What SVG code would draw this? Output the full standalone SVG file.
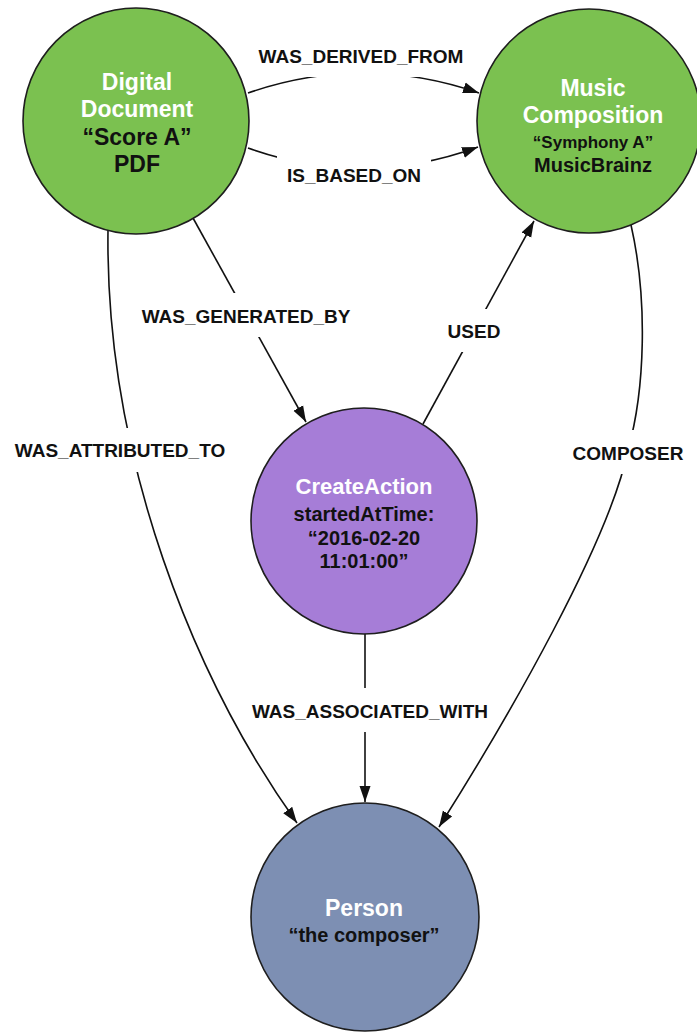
<svg xmlns="http://www.w3.org/2000/svg" width="697" height="1033" viewBox="0 0 697 1033">
<style>
.node{stroke:#1e1e1e;stroke-width:1.6}
.green{fill:#7bc150}
.purple{fill:#a67dd7}
.blue{fill:#7d8fb3}
.t{font-family:"Liberation Sans",Arial,Helvetica,sans-serif;font-weight:bold;text-anchor:middle}
.w{fill:#ffffff}
.k{fill:#111111}
.edge{fill:none;stroke:#111111;stroke-width:1.6}
.lbl{font-family:"Liberation Sans",Arial,Helvetica,sans-serif;font-weight:bold;font-size:19px;text-anchor:middle;fill:#111111}
.bg{fill:#ffffff}
</style>
<defs>
<marker id="arr" markerUnits="userSpaceOnUse" markerWidth="17" markerHeight="12" refX="16" refY="6" orient="auto">
<path d="M0,0.5 L16,6 L0,11.5 z" fill="#111111"/>
</marker>
</defs>
<rect x="0" y="0" width="697" height="1033" fill="#ffffff"/>
<g id="connectors">
<path class="edge" d="M248,93 Q363,53 479,93" marker-end="url(#arr)"/>
<path class="edge" d="M248,148 Q363,189 478,147" marker-end="url(#arr)"/>
<path class="edge" d="M193,218 L306,422" marker-end="url(#arr)"/>
<path class="edge" d="M423,424 L534,221" marker-end="url(#arr)"/>
<path class="edge" d="M108,230 C105,460 195,680 297,823" marker-end="url(#arr)"/>
<path class="edge" d="M631,225 C648,300 645,390 628,450 C610,540 510,715 439,827" marker-end="url(#arr)"/>
<path class="edge" d="M365,634 L365,802" marker-end="url(#arr)"/>
<rect class="bg" x="249" y="34" width="224" height="43"/>
<text class="lbl" x="361" y="63">WAS_DERIVED_FROM</text>
<rect class="bg" x="277" y="154" width="154" height="43"/>
<text class="lbl" x="354" y="182">IS_BASED_ON</text>
<rect class="bg" x="130" y="293" width="232" height="44"/>
<text class="lbl" x="246" y="323">WAS_GENERATED_BY</text>
<rect class="bg" x="438" y="309" width="72" height="43"/>
<text class="lbl" x="474" y="338">USED</text>
<rect class="bg" x="5" y="428" width="230" height="44"/>
<text class="lbl" x="120" y="457">WAS_ATTRIBUTED_TO</text>
<rect class="bg" x="562" y="430" width="133" height="44"/>
<text class="lbl" x="628" y="460">COMPOSER</text>
<rect class="bg" x="246" y="688" width="248" height="44"/>
<text class="lbl" x="370" y="718">WAS_ASSOCIATED_WITH</text>
</g>
<g id="node-digital-document">
<circle class="node green" cx="136" cy="121" r="113"/>
<text class="t w" x="137" y="90" font-size="23">Digital</text>
<text class="t w" x="137" y="117" font-size="23">Document</text>
<text class="t k" x="137" y="145" font-size="23">“Score A”</text>
<text class="t k" x="137" y="172" font-size="23">PDF</text>
</g>
<g id="node-music-composition">
<circle class="node green" cx="589" cy="121" r="112"/>
<text class="t w" x="593" y="96" font-size="23">Music</text>
<text class="t w" x="593" y="123" font-size="23">Composition</text>
<text class="t k" x="593" y="148" font-size="17">“Symphony A”</text>
<text class="t k" x="593" y="172" font-size="20">MusicBrainz</text>
</g>
<g id="node-create-action">
<circle class="node purple" cx="364" cy="521" r="113"/>
<text class="t w" x="364" y="494" font-size="22">CreateAction</text>
<text class="t k" x="364" y="521" font-size="20">startedAtTime:</text>
<text class="t k" x="364" y="545" font-size="20">“2016-02-20</text>
<text class="t k" x="364" y="568" font-size="20">11:01:00”</text>
</g>
<g id="node-person">
<circle class="node blue" cx="365" cy="917" r="114"/>
<text class="t w" x="364" y="916" font-size="23">Person</text>
<text class="t k" x="364" y="942" font-size="20">“the composer”</text>
</g>
</svg>
